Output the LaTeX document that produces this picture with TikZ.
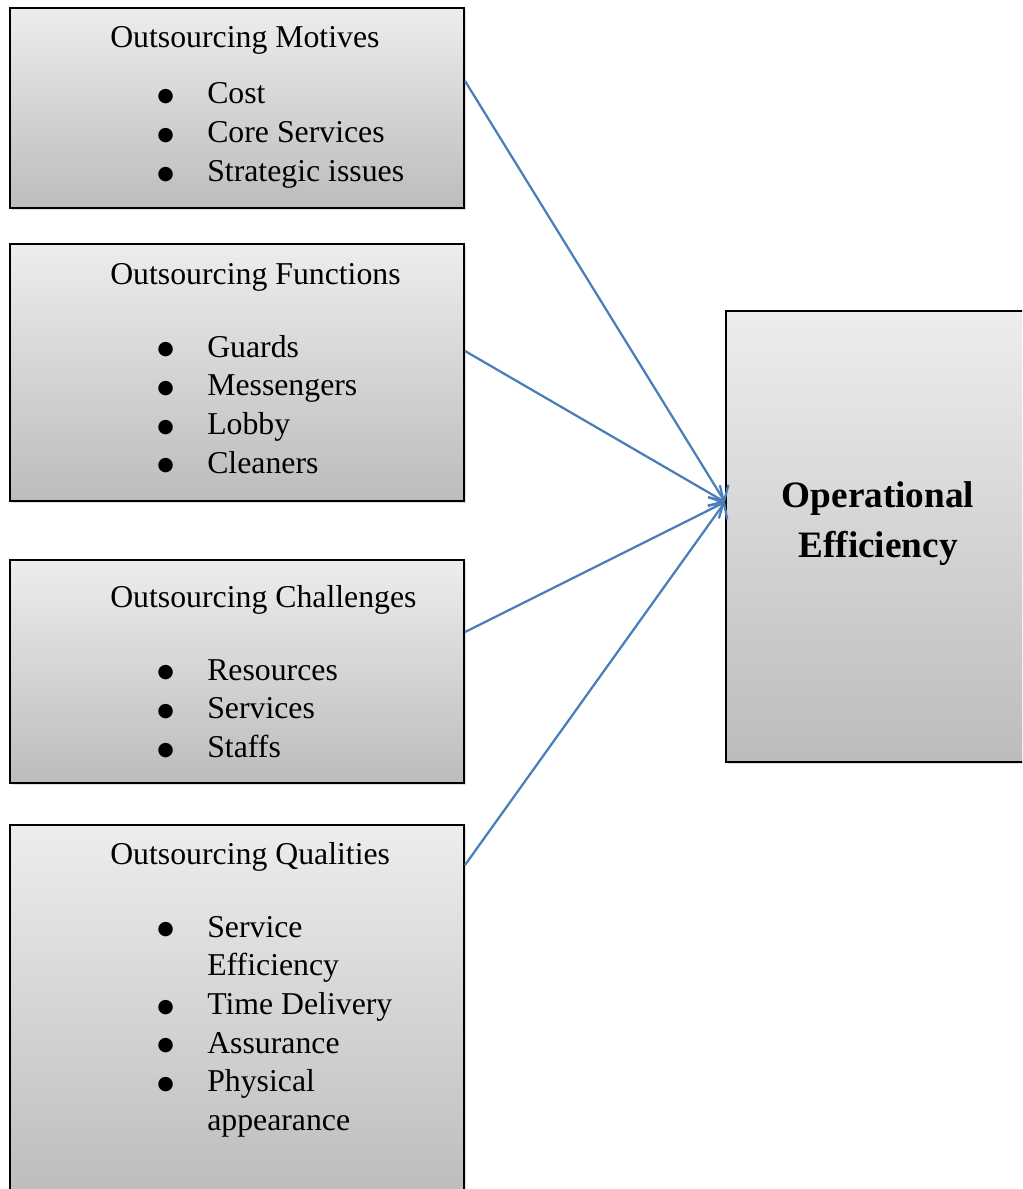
\documentclass[tikz,border=0pt]{standalone}
\usepackage{fontspec}
\setmainfont{Liberation Serif}
\newfontfamily\symfont{DejaVu Sans}
\usetikzlibrary{arrows.meta,shadows}
\definecolor{boxtop}{RGB}{237,237,237}
\definecolor{boxbot}{RGB}{188,188,188}
\definecolor{linkblue}{RGB}{74,126,187}

% bullet list, first row on the node's baseline
\newcommand{\dotmark}{\hspace*{-2pt}\raisebox{1.5pt}{\symfont\fontsize{13.5}{13.5}\selectfont ●}}
\newcommand{\blist}[1]{\begin{tabular}[t]{@{}p{1.175cm}@{}l@{}}#1\end{tabular}}

\begin{document}
\begin{tikzpicture}[x=0.025cm, y=-0.025cm,
  blk/.style={draw, line width=1.4pt, top color=boxtop, bottom color=boxbot,
    drop shadow={shadow xshift=1.5pt, shadow yshift=-1.5pt, opacity=0.25},
    minimum width=11.35cm, inner sep=0pt},
  hd/.style={anchor=base west, inner sep=0pt, font=\fontsize{22.6}{27.5}\selectfont},
  items/.style={anchor=base west, inner sep=0pt, font=\fontsize{22.6}{27.5}\selectfont},
  link/.style={draw=linkblue, line width=1.6pt, -{Straight Barb[length=8pt,width=17pt]}}
]
\clip (0,0) rectangle (1022,1189);
\fill[white] (0,0) rectangle (1022,1189);

% left column
\node[blk, minimum height=5cm] (mot) at (237,108) {};
\node[blk, minimum height=6.425cm] (fun) at (237,372.5) {};
\node[blk, minimum height=5.575cm] (cha) at (237,671.5) {};
\node[blk, minimum height=9.375cm] (qua) at (237,1012.5) {};
% right box
\node[blk, minimum width=7.6cm, minimum height=11.275cm] (eff) at (878,536.5) {};

\node[hd] (motT) at (110,48) {Outsourcing Motives};
\node[items] (motL) at (160,104) {\blist{\dotmark & Cost\\ \dotmark & Core Services\\ \dotmark & Strategic issues}};

\node[hd] (funT) at (110,284) {Outsourcing Functions};
\node[items] (funL) at (160,357) {\blist{\dotmark & Guards\\ \dotmark & Messengers\\ \dotmark & Lobby\\ \dotmark & Cleaners}};

\node[hd] (chaT) at (110,607) {Outsourcing Challenges};
\node[items] (chaL) at (160,680) {\blist{\dotmark & Resources\\ \dotmark & Services\\ \dotmark & Staffs}};

\node[hd] (quaT) at (110,864) {Outsourcing Qualities};
\node[items] (quaL) at (160,937) {\blist{\dotmark & Service\\ & Efficiency\\ \dotmark & Time Delivery\\ \dotmark & Assurance\\ \dotmark & Physical\\ & appearance}};

\node[anchor=base, inner sep=0pt, font=\fontsize{26.5}{35.6}\selectfont\bfseries] (effT) at (878,507)
  {\begin{tabular}[t]{@{}c@{}}Operational\\ Efficiency\end{tabular}};

% links into the efficiency box
\coordinate (hub) at ([yshift=-4.8cm]eff.north west);
\draw[link] ([yshift=-1.85cm]mot.north east) -- (hub);
\draw[link] ([yshift=-2.7cm]fun.north east) -- (hub);
\draw[link] ([yshift=-1.825cm]cha.north east) -- (hub);
\draw[link] ([yshift=-1.025cm]qua.north east) -- (hub);
\end{tikzpicture}
\end{document}
